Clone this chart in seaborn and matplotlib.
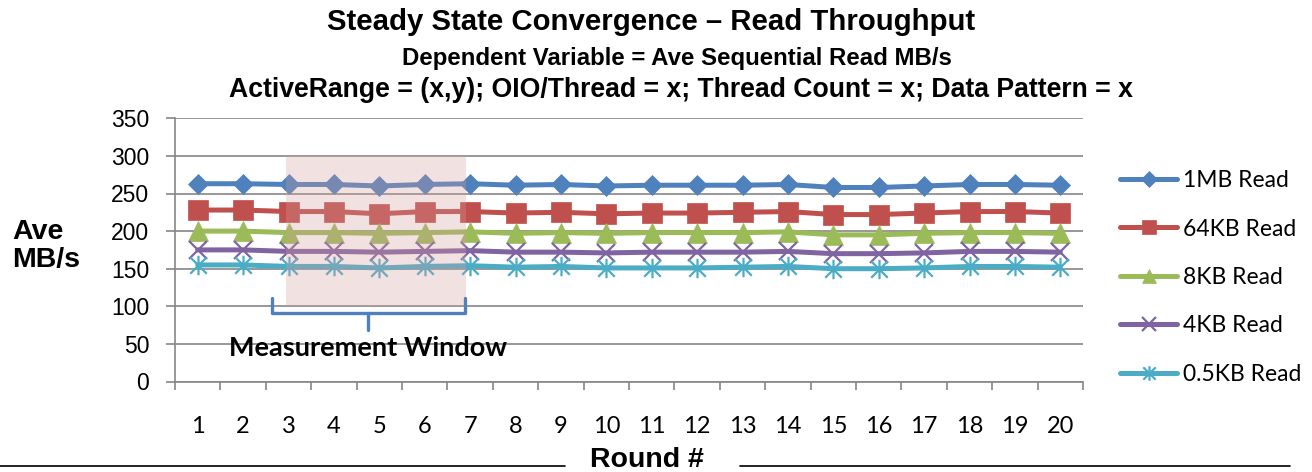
import numpy as np
import pandas as pd
import matplotlib
matplotlib.use("Agg")
import matplotlib.pyplot as plt
import seaborn as sns
from matplotlib.path import Path
from matplotlib.patches import Rectangle
from matplotlib.lines import Line2D

# ---------------- data ----------------
rounds = list(range(1, 21))
series_names = ["1MB Read", "64KB Read", "8KB Read", "4KB Read", "0.5KB Read"]
read_1mb = [263, 263, 262, 262, 260, 262, 263, 261, 262, 260,
            261, 261, 261, 262, 258, 258, 260, 262, 262, 261]
read_64kb = [228, 228, 226, 226, 223, 226, 226, 224, 225, 223,
             224, 224, 225, 226, 222, 222, 224, 226, 226, 224]
read_8kb = [200, 200, 198, 198, 197, 198, 199, 197, 198, 197,
            198, 198, 198, 199, 195, 195, 197, 198, 198, 197]
read_4kb = [175, 175, 173, 173, 172, 173, 174, 172, 172, 171,
            172, 172, 172, 173, 170, 170, 171, 173, 173, 172]
read_05kb = [155, 155, 153, 153, 151, 153, 154, 152, 153, 151,
             151, 151, 152, 153, 150, 150, 151, 153, 153, 152]
y_ticks = [0, 50, 100, 150, 200, 250, 300, 350]
window_rounds = [3, 7]
window_label = "Measurement Window"

all_values = [read_1mb, read_64kb, read_8kb, read_4kb, read_05kb]
df = pd.concat([pd.DataFrame({"round": rounds, "mbps": v, "series": n})
                for n, v in zip(series_names, all_values)], ignore_index=True)

# ---------------- styles ----------------
colors = ["#4F81BD", "#C0504D", "#9BBB59", "#8064A2", "#4BACC6"]
star = Path([(0, -1), (0, 1), (-0.85, -0.85), (0.85, 0.85), (-0.85, 0.85), (0.85, -0.85)],
            [Path.MOVETO, Path.LINETO, Path.MOVETO, Path.LINETO, Path.MOVETO, Path.LINETO])
markers = ["D", "s", "^", "x", star]
msizes = [10.5, 14, 14, 12.5, 14]
mews = [0.5, 0.5, 0.5, 1.6, 1.6]

sns.set_theme(style="white")
plt.rcParams["font.family"] = ["Liberation Sans", "DejaVu Sans"]
plt.rcParams["text.color"] = "black"
plt.rcParams["xtick.labelcolor"] = "black"
plt.rcParams["ytick.labelcolor"] = "black"

W, H = 1312, 472
fig = plt.figure(figsize=(W / 100, H / 100), dpi=100)
ax = fig.add_axes([175 / W, (H - 381.5) / H, 908 / W, 263.2 / H])

handles = []
for name, c, m, ms, mew in zip(series_names, colors, markers, msizes, mews):
    sub = df[df["series"] == name]
    sns.lineplot(data=sub, x="round", y="mbps", ax=ax, color=c, lw=3.6,
                 marker=m, markersize=ms, markeredgecolor=c, markerfacecolor=c,
                 markeredgewidth=mew, legend=False, zorder=3)
    handles.append(ax.lines[-1])

# measurement window shading (drawn over lines, semi-transparent)
ax.add_patch(Rectangle((window_rounds[0] - 0.05, 100), window_rounds[1] - window_rounds[0] - 0.05, 200,
                       facecolor=(0.83, 0.62, 0.62), alpha=0.3, edgecolor="none", zorder=4))

# bracket
bl, br = window_rounds[0] - 0.37, window_rounds[1] - 0.11
bm = (bl + br) / 2
bkw = dict(color="#4F81BD", lw=2.4, solid_capstyle="round", solid_joinstyle="round", zorder=5)
ax.plot([bl, bl, br, br], [111, 91, 91, 111], **bkw)
ax.plot([bm, bm], [91, 69], **bkw)
ax.text(bm, 45, window_label, ha="center", va="center", fontsize=19.5,
        fontweight="bold", family=["Lato", "DejaVu Sans"], color="black", zorder=6)

# axes
ax.set_xlim(0.5, 20.5)
ax.set_ylim(0, 350)
ax.set_yticks(y_ticks)
ax.set_xticks(rounds)
ax.set_xticks(np.arange(0.5, 21, 1), minor=True)
ax.set_xlabel("")
ax.set_ylabel("")
ax.grid(axis="y", color="#868686", lw=1.2, zorder=0)
ax.grid(axis="x", visible=False)
ax.set_axisbelow(True)
for s in ["top", "right"]:
    ax.spines[s].set_visible(False)
for s in ["left", "bottom"]:
    ax.spines[s].set_color("#868686")
    ax.spines[s].set_linewidth(1.2)
ax.tick_params(axis="y", which="major", direction="out", length=6.5, width=1.2,
               color="#868686", pad=12, labelsize=16.5, left=True, labelcolor="black")
ax.tick_params(axis="x", which="major", length=0, pad=25, labelsize=17, labelcolor="black")
ax.tick_params(axis="x", which="minor", direction="out", length=5.8, width=1.2,
               color="#868686", bottom=True)
for lab in ax.get_xticklabels():
    lab.set_family(["Lato", "DejaVu Sans"])

# titles
fig.text(651 / W, 1 - 22 / H, "Steady State Convergence \u2013 Read Throughput",
         ha="center", va="center", fontsize=21.2, fontweight="bold")
fig.text(677 / W, 1 - 58 / H, "Dependent Variable = Ave Sequential Read MB/s",
         ha="center", va="center", fontsize=17.3, fontweight="bold")
fig.text(680.5 / W, 1 - 90 / H,
         "ActiveRange = (x,y); OIO/Thread = x; Thread Count = x; Data Pattern = x",
         ha="center", va="center", fontsize=19.2, fontweight="bold")
fig.text(12 / W, 1 - 246 / H, "Ave\nMB/s", ha="left", va="center", fontsize=20.5,
         fontweight="bold", linespacing=1.1)
fig.text(647 / W, 1 - 460 / H, "Round #", ha="center", va="center", fontsize=20.5,
         fontweight="bold")
fig.add_artist(Line2D([0 / W, 565 / W], [6 / H, 6 / H], color="black", lw=1.2))
fig.add_artist(Line2D([740 / W, 1290 / W], [6 / H, 6 / H], color="black", lw=1.2))

# legend
fig.legend(handles=handles, labels=series_names, loc="center left",
           bbox_to_anchor=(1120 / W, 1 - 277.5 / H), frameon=False, borderpad=0,
           borderaxespad=0, handlelength=2.5, handletextpad=0.25, labelspacing=1.2,
           markerscale=0.75, prop={"family": ["Lato", "DejaVu Sans"], "size": 16.5})

fig.savefig("out.png", dpi=100)
